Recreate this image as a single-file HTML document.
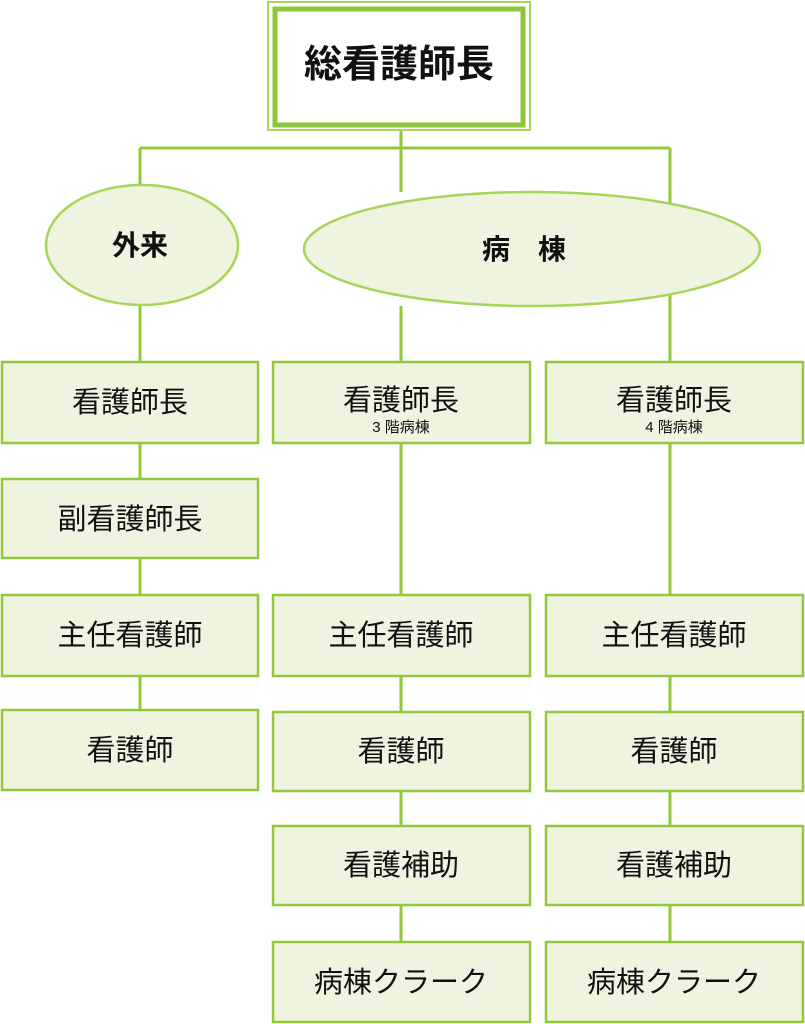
<!DOCTYPE html>
<html><head><meta charset="utf-8"><style>
html,body{margin:0;padding:0;background:#fff;}
svg{display:block;}
text{font-family:"Liberation Sans","Noto Sans CJK JP",sans-serif;fill:#111;text-anchor:middle;}
.b{fill:#eff4e0;stroke:#94c83c;stroke-width:2.5;}
.l{stroke:#94c83c;stroke-width:3;fill:none;}
.t{font-size:29px;}
.s{font-size:15px;}
</style></head><body>
<svg width="805" height="1024" viewBox="0 0 805 1024">
<path class="l" d="M140 148H670M401 128V192M140 148V186M670 148V362M140 305V362M140 443V479M140 558V595M140 676V710M401 306V362M401 443V595M401 676V712M401 791V826M401 905V942M670 443V595M670 676V712M670 791V826M670 905V942"/>
<rect x="268" y="2" width="262" height="128" fill="#fff" stroke="#a8d45a" stroke-width="2"/>
<rect x="275" y="9" width="248" height="116" fill="#fff" stroke="#8cc63a" stroke-width="5"/>
<text x="399" y="77" style="font-size:38px;font-weight:bold">総看護師長</text>
<ellipse class="b" cx="142" cy="245" rx="96" ry="60" stroke-width="1.2" style="stroke:#a8d45a"/>
<text x="140" y="255" style="font-size:28px;font-weight:bold">外来</text>
<ellipse class="b" cx="532" cy="249" rx="228" ry="57" stroke-width="1.2" style="stroke:#a8d45a"/>
<text x="524" y="259" style="font-size:28px;font-weight:bold" xml:space="preserve">病　棟</text>
<rect class="b" x="2" y="362" width="256" height="81"/><text class="t" x="130" y="412">看護師長</text>
<rect class="b" x="2" y="479" width="256" height="79"/><text class="t" x="130" y="529">副看護師長</text>
<rect class="b" x="2" y="595" width="256" height="81"/><text class="t" x="130" y="645">主任看護師</text>
<rect class="b" x="2" y="710" width="256" height="80"/><text class="t" x="130" y="760">看護師</text>
<rect class="b" x="273" y="362" width="257" height="81"/><text class="t" x="401" y="410">看護師長</text><text class="s" x="401" y="432">3 階病棟</text>
<rect class="b" x="273" y="595" width="257" height="81"/><text class="t" x="401" y="645">主任看護師</text>
<rect class="b" x="273" y="712" width="257" height="79"/><text class="t" x="401" y="761">看護師</text>
<rect class="b" x="273" y="826" width="257" height="79"/><text class="t" x="401" y="875">看護補助</text>
<rect class="b" x="273" y="942" width="257" height="80"/><text class="t" x="401" y="992">病棟クラーク</text>
<rect class="b" x="546" y="362" width="257" height="81"/><text class="t" x="674" y="410">看護師長</text><text class="s" x="674" y="432">4 階病棟</text>
<rect class="b" x="546" y="595" width="257" height="81"/><text class="t" x="674" y="645">主任看護師</text>
<rect class="b" x="546" y="712" width="257" height="79"/><text class="t" x="674" y="761">看護師</text>
<rect class="b" x="546" y="826" width="257" height="79"/><text class="t" x="674" y="875">看護補助</text>
<rect class="b" x="546" y="942" width="257" height="80"/><text class="t" x="674" y="992">病棟クラーク</text>
</svg>
</body></html>
